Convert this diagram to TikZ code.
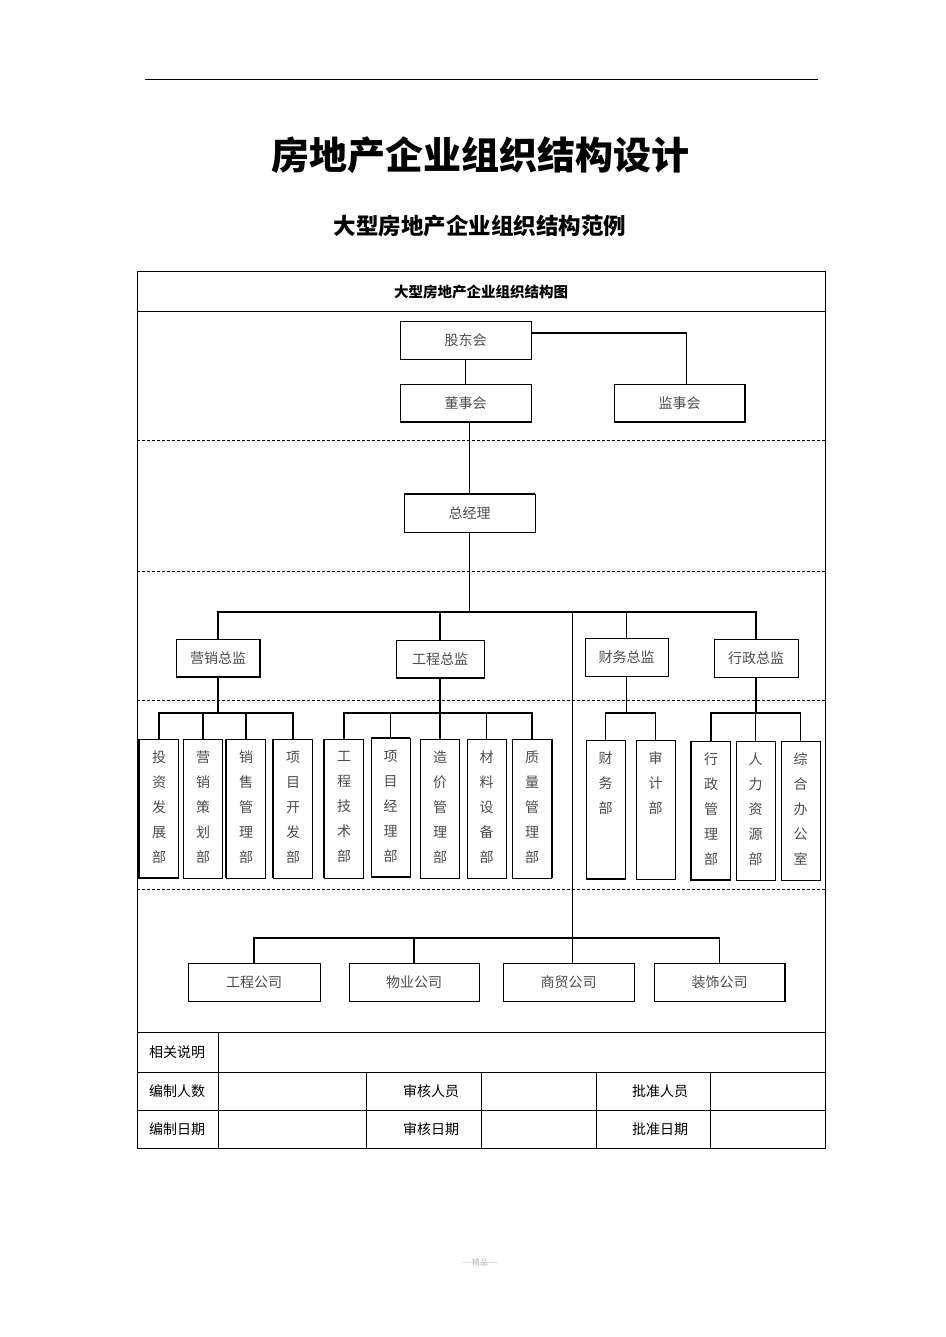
\documentclass[tikz,border=0pt]{standalone}
\usepackage{fontspec}
\setmainfont{Noto Sans CJK SC}
\usepackage{tikz}
\definecolor{boxtext}{gray}{0.3}
\tikzstyle{org box} = [draw, line width=0.9pt, inner sep=0pt, minimum height=38pt, text=boxtext, font=\fontsize{14}{14}\selectfont]
\tikzstyle{dept box} = [draw, line width=0.9pt, inner sep=0pt, minimum width=39pt, minimum height=139pt, text=boxtext]
\tikzstyle{cell} = [inner sep=0pt, font=\fontsize{14}{14}\selectfont]
\tikzset{link/.style = {line width=1.1pt},
         thin link/.style = {line width=0.7pt},
         sep line/.style = {dash pattern=on 3pt off 2pt, line width=0.6pt},
         heavy edge/.style = {line width=2pt}}
\newcommand{\deptlabel}[1]{\parbox[c][115pt][t]{16pt}{\centering\fontsize{14}{25}\selectfont #1}}

\begin{document}
\begin{tikzpicture}[x=1pt,y=-1pt]
            \useasboundingbox (0,0) rectangle (945,1337);
            \draw[line width=0.8pt] (145,79) -- (818,79);
            \node[font=\fontsize{38}{38}\selectfont\bfseries] (title) at (480,155) {房地产企业组织结构设计};
            \node[font=\fontsize{22.5}{22.5}\selectfont\bfseries] (subtitle) at (480,226) {大型房地产企业组织结构范例};

            % frame
            \draw[line width=0.8pt] (137,271) rectangle (825,1148);
            \draw[line width=0.8pt] (137,311) -- (825,311);
            \draw[sep line] (137,440) -- (825,440);
            \draw[sep line] (137,571) -- (825,571);
            \draw[sep line] (137,700) -- (825,700);
            \draw[sep line] (137,889) -- (825,889);
            \draw[line width=0.8pt] (137,1032) -- (825,1032);
            \draw[line width=0.8pt] (137,1072) -- (825,1072);
            \draw[line width=0.8pt] (137,1110) -- (825,1110);
            \draw[line width=0.8pt] (218,1032) -- (218,1148);
            \foreach \x in {366,481,596,710}
                \draw[line width=0.8pt] (\x,1072) -- (\x,1148);
            \node[cell, font=\fontsize{14.5}{14.5}\selectfont\bfseries] (charttitle) at (481,292) {大型房地产企业组织结构图};

            % top levels
            \node[org box, minimum width=131pt] (gdh) at (465.5,340) {股东会};
            \node[org box, minimum width=131pt] (dsh) at (465.5,403) {董事会};
            \node[org box, minimum width=131pt] (jsh) at (679.5,403) {监事会};
            \node[org box, minimum width=131pt] (zjl) at (469.5,513) {总经理};
            \node[org box, minimum width=84pt] (yxzj) at (218,658) {营销总监};
            \node[org box, minimum width=88pt] (gczj) at (440,659) {工程总监};
            \node[org box, minimum width=83pt] (cwzj) at (626.5,657) {财务总监};
            \node[org box, minimum width=84pt] (xzzj) at (756,658) {行政总监};

            % departments
            \node[dept box] (tzfz) at (159,808.5) {\deptlabel{投\\资\\发\\展\\部}};
            \node[dept box] (yxch) at (203,808.5) {\deptlabel{营\\销\\策\\划\\部}};
            \node[dept box] (xsgl) at (246,808.5) {\deptlabel{销\\售\\管\\理\\部}};
            \node[dept box] (xmkf) at (293,808.5) {\deptlabel{项\\目\\开\\发\\部}};
            \node[dept box] (gcjs) at (344,808.5) {\deptlabel{工\\程\\技\\术\\部}};
            \node[dept box] (xmjl) at (390.5,807.5) {\deptlabel{项\\目\\经\\理\\部}};
            \node[dept box] (zjgl) at (440,808.5) {\deptlabel{造\\价\\管\\理\\部}};
            \node[dept box] (clsb) at (486.5,808.5) {\deptlabel{材\\料\\设\\备\\部}};
            \node[dept box] (zlgl) at (532,808.5) {\deptlabel{质\\量\\管\\理\\部}};
            \node[dept box] (cwb) at (605.5,809.5) {\deptlabel{财\\务\\部}};
            \node[dept box] (sjb) at (655.5,809.5) {\deptlabel{审\\计\\部}};
            \node[dept box] (xzgl) at (711,810.5) {\deptlabel{行\\政\\管\\理\\部}};
            \node[dept box] (rlzy) at (755.5,810.5) {\deptlabel{人\\力\\资\\源\\部}};
            \node[dept box] (zhbg) at (800.5,810.5) {\deptlabel{综\\合\\办\\公\\室}};

            % companies
            \node[org box, minimum width=132pt] (gcgs) at (254,982) {工程公司};
            \node[org box, minimum width=130pt] (wygs) at (414,982) {物业公司};
            \node[org box, minimum width=131pt] (smgs) at (568.5,982) {商贸公司};
            \node[org box, minimum width=131pt] (zsgs) at (719.5,982) {装饰公司};

            \coordinate (mbus) at (469.5,612);
            \coordinate (trunk) at (572,612);
            \coordinate (sbus) at (0,713);
            \coordinate (cbus) at (0,938);

            \draw[link] ([yshift=7pt]gdh.east) -| ([xshift=7pt]jsh.north);
            \draw[link] (gdh.south) -- (dsh.north);
            \draw[link] (zjl.north) -- (zjl.north |- dsh.south);
            \draw[link] (zjl.south) -- (mbus);
            \draw[link] (yxzj.north) |- (mbus) -| (xzzj.north);
            \draw[link] (gczj.north) -- (gczj.north |- mbus);
            \draw[link] (cwzj.north) -- (cwzj.north |- mbus);
            \draw[thin link] (trunk) -- (smgs.north -| trunk);

            \draw[link] (yxzj.south) -- (yxzj.south |- sbus);
            \draw[link] (tzfz.north) |- (xmkf.north |- sbus) -- (xmkf.north);
            \draw[link] (yxch.north) -- (yxch.north |- sbus);
            \draw[link] (xsgl.north) -- (xsgl.north |- sbus);

            \draw[link] (gczj.south) -- (gczj.south |- sbus);
            \draw[link] (gcjs.north) |- (zlgl.north |- sbus) -- (zlgl.north);
            \draw[link] (xmjl.north) -- (xmjl.north |- sbus);
            \draw[link] (zjgl.north) -- (zjgl.north |- sbus);
            \draw[link] (clsb.north) -- (clsb.north |- sbus);

            \draw[link] (cwzj.south) -- (cwzj.south |- sbus);
            \draw[link] (cwb.north) |- (sjb.north |- sbus) -- (sjb.north);

            \draw[link] (xzzj.south) -- (xzzj.south |- sbus);
            \draw[link] (xzgl.north) |- (zhbg.north |- sbus) -- (zhbg.north);
            \draw[link] (rlzy.north) -- (rlzy.north |- sbus);

            \draw[link] (gcgs.north) |- (zsgs.north |- cbus) -- (zsgs.north);
            \draw[link] (wygs.north) -- (wygs.north |- cbus);

            % shadowed edges
            \draw[heavy edge] (dsh.south west) -- (dsh.south east);
            \draw[heavy edge] (jsh.south west) -- (jsh.south east) -- (jsh.north east);
            \draw[heavy edge] (zjl.north west) -- (zjl.north east);
            \draw[heavy edge] (yxzj.south west) -- (yxzj.south east) -- (yxzj.north east);
            \draw[heavy edge] (gczj.south west) -- (gczj.south east);
            \draw[heavy edge] (tzfz.north west) -- (tzfz.south west) -- (tzfz.south east);
            \draw[heavy edge] (xsgl.north west) -- (xsgl.south west);
            \draw[heavy edge] (xmkf.north west) -- (xmkf.south west);
            \draw[heavy edge] (gcjs.north west) -- (gcjs.south west);
            \draw[heavy edge] (xmjl.north west) -- (xmjl.north east);
            \draw[heavy edge] (xmjl.south west) -- (xmjl.south east);
            \draw[heavy edge] (zlgl.north east) -- (zlgl.south east);
            \draw[heavy edge] (cwb.south west) -- (cwb.south east);
            \draw[heavy edge] (xzgl.north west) -- (xzgl.south west) -- (xzgl.south east);
            \draw[heavy edge] (zsgs.north east) -- (zsgs.south east);

            % sign-off table
            \node[cell] (xgsm) at (177,1052) {相关说明};
            \node[cell] (bzrs) at (177,1091) {编制人数};
            \node[cell] (bzrq) at (177,1129) {编制日期};
            \node[cell] (shry) at (431,1091) {审核人员};
            \node[cell] (shrq) at (431,1129) {审核日期};
            \node[cell] (pzry) at (660,1091) {批准人员};
            \node[cell] (pzrq) at (660,1129) {批准日期};

            \node[text=black!30, font=\fontsize{8}{8}\selectfont] (footer) at (480,1262) {----精品----};
        \end{tikzpicture}
\end{document}
